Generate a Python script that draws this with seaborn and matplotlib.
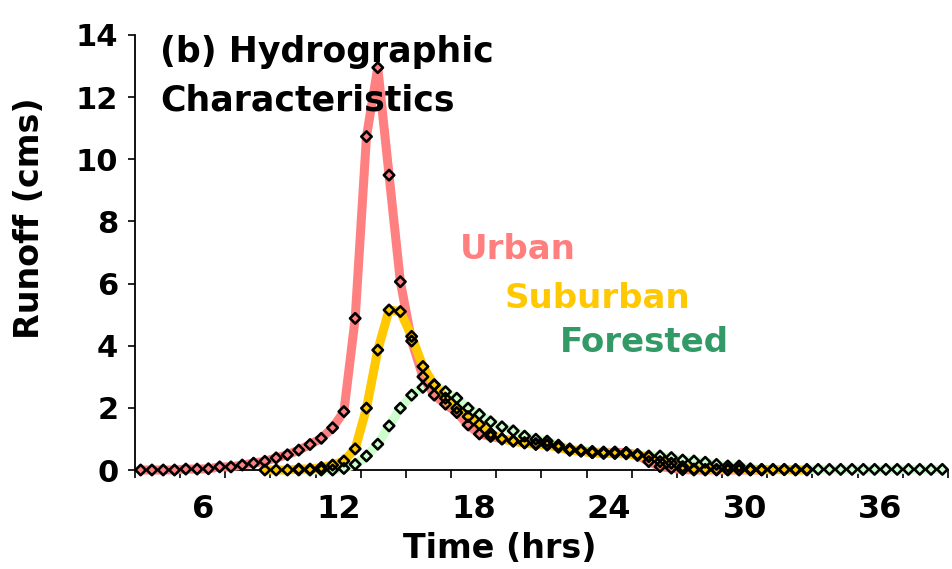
import numpy as np
import pandas as pd
import matplotlib
matplotlib.use("Agg")
import matplotlib.pyplot as plt
import seaborn as sns

# Hydrograph ordinates (cms) at half-hour steps for each land-cover scenario
step_hrs = 0.5

urban_start = 3.25
urban_q = [0, 0, 0, 0, 0.03, 0.03, 0.04, 0.10, 0.10, 0.16, 0.22, 0.28, 0.39, 0.49,
           0.64, 0.82, 1.02, 1.36, 1.88, 4.88, 10.73, 12.95, 9.49, 6.06, 4.15, 3.00,
           2.41, 2.12, 1.85, 1.45, 1.16, 1.08, 1.00, 0.93, 0.88, 0.85, 0.82, 0.75,
           0.64, 0.61, 0.56, 0.54, 0.56, 0.56, 0.48, 0.27, 0.11, 0.06, 0.01,
           0, 0, 0, 0, 0, 0, 0]

suburban_start = 8.75
suburban_q = [0, 0, 0, 0.03, 0.03, 0.08, 0.16, 0.29, 0.68, 1.99, 3.86, 5.15, 5.10,
              4.30, 3.33, 2.74, 2.31, 1.99, 1.72, 1.47, 1.18, 1.00, 0.93, 0.87,
              0.82, 0.80, 0.73, 0.64, 0.61, 0.56, 0.54, 0.53, 0.52, 0.47, 0.43,
              0.27, 0.22, 0.11, 0.03, 0.02, 0.02, 0.02, 0.02, 0.01, 0.01, 0.01,
              0.01, 0, 0]

forested_start = 10.25
forested_q = [0, 0, 0, 0, 0.05, 0.18, 0.45, 0.83, 1.42, 1.99, 2.41, 2.66, 2.74,
              2.52, 2.31, 1.99, 1.79, 1.55, 1.39, 1.26, 1.09, 0.99, 0.93, 0.80,
              0.68, 0.64, 0.60, 0.58, 0.58, 0.56, 0.50, 0.45, 0.45, 0.40, 0.32,
              0.29, 0.25, 0.18, 0.13, 0.13, 0.04,
              0.02, 0.02, 0.02, 0.02, 0.02, 0.02, 0.02, 0.02, 0.02, 0.02, 0.02,
              0.02, 0.02, 0.02, 0.02, 0.02, 0.02]

scenarios = ["Urban", "Suburban", "Forested"]
line_colors = {"Urban": "#FF8080", "Suburban": "#FFC800", "Forested": "#CCFFCC"}
text_colors = {"Urban": "#FF7F7F", "Suburban": "#FFC800", "Forested": "#339966"}

x_labels = [6, 12, 18, 24, 30, 36]
y_ticks = [0, 2, 4, 6, 8, 10, 12, 14]


def series_frame(name, start, q):
    t = start + step_hrs * np.arange(len(q))
    return pd.DataFrame({"Time": t, "Runoff": q, "Scenario": name})


df = pd.concat([
    series_frame("Urban", urban_start, urban_q),
    series_frame("Suburban", suburban_start, suburban_q),
    series_frame("Forested", forested_start, forested_q),
], ignore_index=True)

sns.set_theme(style="white")
plt.rcParams["font.family"] = ["DejaVu Sans"]
plt.rcParams["font.weight"] = "bold"
plt.rcParams["text.color"] = "black"
plt.rcParams["axes.labelcolor"] = "black"
plt.rcParams["xtick.color"] = "black"
plt.rcParams["ytick.color"] = "black"

W, H = 953, 569
fig = plt.figure(figsize=(W / 100, H / 100), dpi=100)
ax_l, ax_r, ax_t, ax_b = 135, 948, 35, 470
ax = fig.add_axes([ax_l / W, 1 - ax_b / H, (ax_r - ax_l) / W, (ax_b - ax_t) / H])

# thick coloured hydrograph lines (forested underneath, suburban on top)
for name, z in [("Forested", 3), ("Urban", 4), ("Suburban", 5)]:
    sub = df[df["Scenario"] == name]
    sns.lineplot(data=sub, x="Time", y="Runoff", color=line_colors[name],
                 linewidth=6.5, ax=ax, zorder=z, clip_on=False,
                 solid_capstyle="round", solid_joinstyle="round",
                 estimator=None, sort=False)

# hollow black diamonds at every time step
for name in scenarios:
    sub = df[df["Scenario"] == name]
    sns.scatterplot(data=sub, x="Time", y="Runoff", marker="D", s=28,
                    facecolor="none", edgecolor="black", linewidth=1.9,
                    ax=ax, zorder=6, clip_on=False)

ax.set_xlim(3, 39)
ax.set_ylim(0, 14)

ax.set_xticks(np.arange(3, 40, 2))
ax.set_xticklabels([])
ax.set_xticks(x_labels, minor=True)
ax.set_xticklabels([str(v) for v in x_labels], minor=True)
ax.tick_params(axis="x", which="major", direction="out", length=6, width=1.2,
               color="black", bottom=True)
ax.tick_params(axis="x", which="minor", length=0, pad=17, labelsize=23,
               labelcolor="black")

ax.set_yticks(y_ticks)
ax.set_yticklabels([str(v) for v in y_ticks])
ax.tick_params(axis="y", direction="out", length=5, width=1.2, color="black",
               left=True, pad=7, labelsize=22, labelcolor="black")
for lab in ax.get_xticklabels(minor=True) + ax.get_yticklabels():
    lab.set_fontweight("bold")

for side in ["top", "right"]:
    ax.spines[side].set_visible(False)
for side in ["left", "bottom"]:
    ax.spines[side].set_color("black")
    ax.spines[side].set_linewidth(1.3)
    ax.spines[side].set_zorder(2)

ax.set_xlabel("")
ax.set_ylabel("")
fig.text(500 / W, 1 - 548 / H, "Time (hrs)", ha="center", va="center",
         fontsize=24, fontweight="bold", color="black")
fig.text(30 / W, 1 - 218 / H, "Runoff (cms)", ha="center", va="center",
         rotation=90, fontsize=24, fontweight="bold", color="black")

fig.text(160 / W, 1 - 52 / H, "(b) Hydrographic", ha="left", va="center",
         fontsize=25, fontweight="bold", color="black")
fig.text(160 / W, 1 - 101 / H, "Characteristics", ha="left", va="center",
         fontsize=25, fontweight="bold", color="black")

fig.text(460 / W, 1 - 250 / H, "Urban", ha="left", va="center",
         fontsize=24.5, fontweight="bold", color=text_colors["Urban"])
fig.text(505 / W, 1 - 299 / H, "Suburban", ha="left", va="center",
         fontsize=24.5, fontweight="bold", color=text_colors["Suburban"])
fig.text(560 / W, 1 - 343 / H, "Forested", ha="left", va="center",
         fontsize=24.5, fontweight="bold", color=text_colors["Forested"])

fig.savefig("out.png", dpi=100)
